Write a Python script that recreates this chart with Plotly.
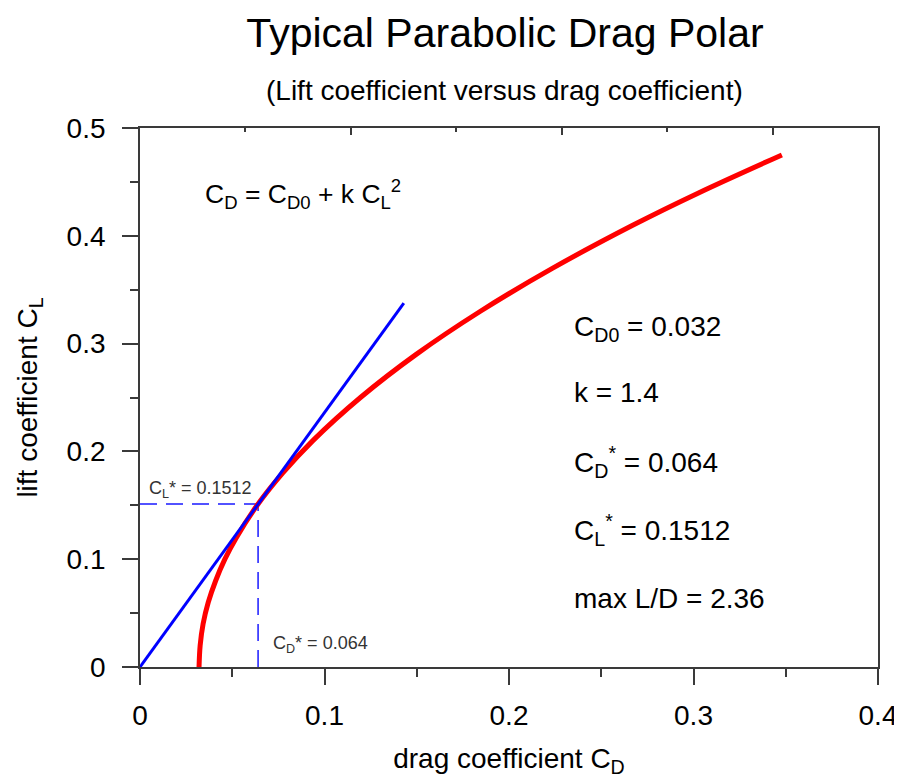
import plotly.graph_objects as go

# Red drag polar
polar_cd = [0.032, 0.0326, 0.0342, 0.0370, 0.0410, 0.0460, 0.0522, 0.0635, 0.0774,
            0.0937, 0.1195, 0.1497, 0.1845, 0.2237, 0.2673, 0.3030, 0.3479]
polar_cl = [0.0, 0.02, 0.04, 0.06, 0.08, 0.10, 0.12, 0.15, 0.18,
            0.21, 0.25, 0.29, 0.33, 0.37, 0.41, 0.44, 0.475]

# Blue tangent line
tangent_cd = [0.0, 0.143]
tangent_cl = [0.0, 0.3375]

# Optimum point
cd_star = 0.064
cl_star = 0.1512

x_ticks = [0, 0.1, 0.2, 0.3, 0.4]
x_labels = ["0", "0.1", "0.2", "0.3", "0.4"]
y_ticks = [0, 0.1, 0.2, 0.3, 0.4, 0.5]
y_labels = ["0", "0.1", "0.2", "0.3", "0.4", "0.5"]

FONT = "Liberation Sans, Arial, sans-serif"
AX = "#3a3a3a"

W, H = 902, 780
OFF = 8  # page body margin
L, R, T, B = 132, 32, 120, 121
pw, ph = W - L - R, H - T - B

fig = go.Figure()

fig.add_trace(go.Scatter(x=[0, cd_star], y=[cl_star, cl_star], mode="lines",
                         line=dict(color="#1a1aff", width=1.5, dash="17px,9px"),
                         hoverinfo="skip", showlegend=False))
fig.add_trace(go.Scatter(x=[cd_star, cd_star], y=[0, cl_star], mode="lines",
                         line=dict(color="#1a1aff", width=1.5, dash="17px,9px"),
                         hoverinfo="skip", showlegend=False))
fig.add_trace(go.Scatter(x=polar_cd, y=polar_cl, mode="lines",
                         line=dict(color="#ff0000", width=5, shape="spline"),
                         showlegend=False))
fig.add_trace(go.Scatter(x=tangent_cd, y=tangent_cl, mode="lines",
                         line=dict(color="#0000ff", width=3),
                         showlegend=False))
# invisible trace to activate top axis
fig.add_trace(go.Scatter(x=[0], y=[0], xaxis="x2", mode="markers",
                         marker=dict(opacity=0), hoverinfo="skip", showlegend=False))

fig.update_layout(
    width=W, height=H,
    margin=dict(l=L, r=R, t=T, b=B),
    paper_bgcolor="white", plot_bgcolor="white",
    font=dict(family=FONT, color="black", size=28),
    title=dict(text="Typical Parabolic Drag Polar", x=(505 - OFF) / W, xref="container",
               xanchor="center", y=1 - (33 - OFF) / H, yref="container", yanchor="middle",
               font=dict(size=41, family=FONT, color="black")),
    xaxis=dict(range=[0, 0.4], tickvals=x_ticks, ticktext=x_labels,
               showgrid=False, zeroline=False, automargin=False,
               showline=True, linecolor=AX, linewidth=1.8, mirror=True,
               ticks="outside", ticklen=16, tickwidth=1.8, tickcolor=AX,
               ticklabelstandoff=6,
               minor=dict(tickvals=[0.05, 0.15, 0.25, 0.35], ticks="outside",
                          ticklen=8, tickwidth=1.8, tickcolor=AX),
               title=dict(text="drag coefficient C<sub>D</sub>", standoff=19,
                          font=dict(size=28)),
               tickfont=dict(size=28)),
    xaxis2=dict(range=[0, 7], overlaying="x", side="top", showticklabels=False,
                showgrid=False, zeroline=False, showline=False, automargin=False,
                tickvals=[2, 4, 6], ticks="inside", ticklen=7, tickwidth=1.8,
                tickcolor=AX,
                minor=dict(tickvals=[1, 3, 5], ticks="inside", ticklen=4,
                           tickwidth=1.8, tickcolor=AX)),
    yaxis=dict(range=[0, 0.5], tickvals=y_ticks, ticktext=y_labels,
               showgrid=False, zeroline=False, automargin=False,
               showline=True, linecolor=AX, linewidth=1.8, mirror=True,
               ticks="outside", ticklen=16, tickwidth=1.8, tickcolor=AX,
               ticklabelstandoff=11,
               minor=dict(tickvals=[0.05, 0.15, 0.25, 0.35, 0.45], ticks="outside",
                          ticklen=8, tickwidth=1.8, tickcolor=AX),
               title=dict(text="lift coefficient C<sub>L</sub>", standoff=21,
                          font=dict(size=28)),
               tickfont=dict(size=28)),
)

def px(page_x):
    return (page_x - OFF - L) / pw

def py(page_y):
    return (H - B - (page_y - OFF)) / ph

def ann(text, x, y, size=28, xanchor="left", color="black"):
    fig.add_annotation(text=text, x=x, y=y, xref="paper", yref="paper", showarrow=False,
                       xanchor=xanchor, yanchor="middle",
                       font=dict(size=size, family=FONT, color=color))

ann("(Lift coefficient versus drag coefficient)", px(504), py(90), size=28, xanchor="center")
ann("C<sub>D</sub> = C<sub>D0</sub> + k C<sub>L</sub><sup>2</sup>", px(203), py(194), size=26.5)
ann("C<sub>D0</sub> = 0.032", px(572), py(328))
ann("k = 1.4", px(572), py(392))
ann("C<sub>D</sub><sup>*</sup> = 0.064", px(572), py(462))
ann("C<sub>L</sub><sup>*</sup> = 0.1512", px(572), py(530))
ann("max L/D = 2.36", px(572), py(598))
ann("C<sub>L</sub>* = 0.1512", px(147), py(489), size=18, color="#333333")
ann("C<sub>D</sub>* = 0.064", px(271), py(644), size=18, color="#333333")

fig.write_html("out.html")
